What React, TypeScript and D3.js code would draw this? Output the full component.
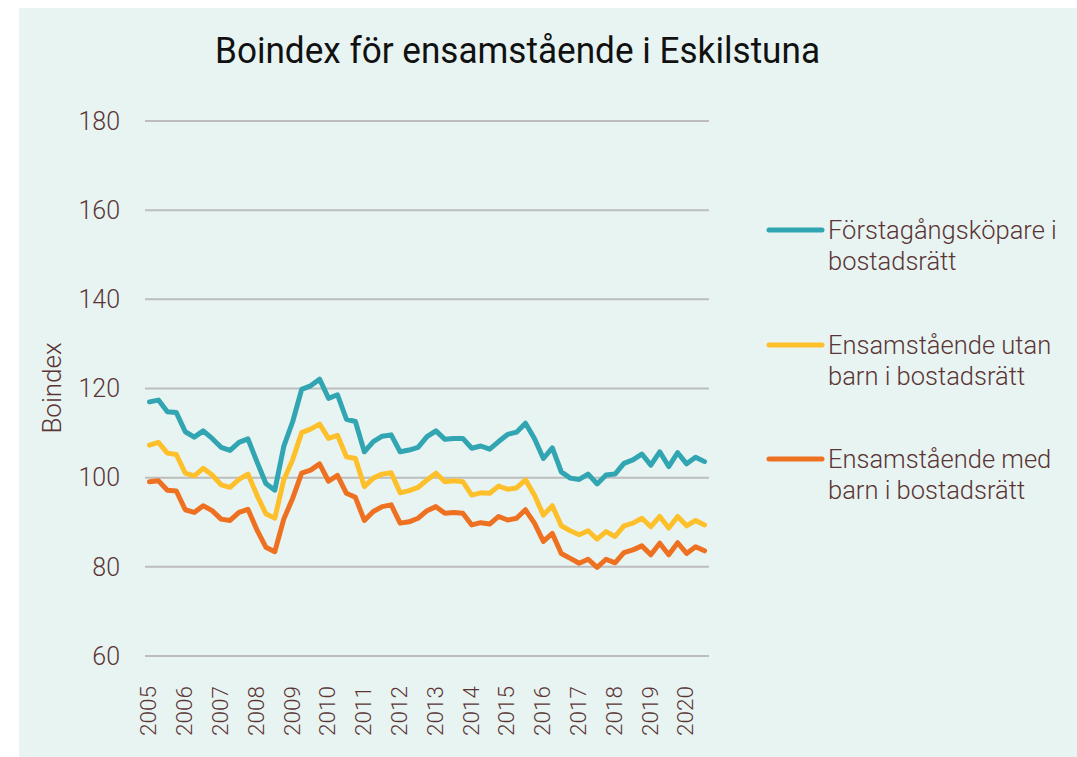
import React from "react";
import * as d3 from "d3";

const years = ["2005","2006","2007","2008","2009","2010","2011","2012","2013","2014","2015","2016","2017","2018","2019","2020"];
const quarters = d3.range(63).map((i) => `${2005 + Math.floor(i / 4)}Q${(i % 4) + 1}`);

const forstagangs = [
  117.0,117.4,114.8,114.6,110.3,109.1,110.5,108.8,106.8,106.1,107.9,108.7,103.6,98.7,97.2,107.0,
  112.6,119.8,120.6,122.1,117.8,118.6,113.1,112.6,105.8,108.1,109.3,109.6,105.8,106.2,106.8,109.2,
  110.5,108.6,108.8,108.8,106.6,107.1,106.4,108.1,109.7,110.2,112.2,108.8,104.3,106.7,101.3,99.9,
  99.6,100.8,98.6,100.6,100.8,103.2,104.0,105.3,102.8,105.8,102.5,105.6,103.1,104.6,103.6
];
const utanBarn = [
  107.3,107.9,105.5,105.2,101.0,100.4,102.1,100.6,98.4,97.8,99.6,100.8,96.1,91.9,90.9,99.5,
  104.1,110.1,110.9,112.0,108.8,109.5,104.7,104.3,98.0,99.9,100.8,101.1,96.6,97.1,97.8,99.5,
  101.0,99.1,99.3,99.1,96.1,96.6,96.5,98.1,97.4,97.7,99.5,96.1,91.6,93.7,89.2,88.1,
  87.2,88.1,86.2,87.9,86.8,89.2,89.8,90.9,89.0,91.3,88.7,91.3,89.2,90.4,89.4
];
const medBarn = [
  99.1,99.3,97.2,97.0,92.8,92.2,93.7,92.6,90.7,90.4,92.2,92.9,88.3,84.4,83.4,90.7,
  95.4,101.0,101.7,103.1,99.2,100.5,96.5,95.6,90.4,92.4,93.5,93.9,89.8,90.1,90.9,92.6,
  93.5,92.0,92.2,92.0,89.4,89.9,89.6,91.3,90.5,90.9,92.8,89.8,85.7,87.5,83.0,81.9,
  80.8,81.7,79.9,81.7,80.9,83.2,83.8,84.7,82.7,85.3,82.7,85.4,83.0,84.5,83.6
];
const yTicks = [60, 80, 100, 120, 140, 160, 180];

const seriesNames = [
  ["Förstagångsköpare i", "bostadsrätt"],
  ["Ensamstående utan", "barn i bostadsrätt"],
  ["Ensamstående med", "barn i bostadsrätt"],
];
const seriesColors = ["#31a5b1", "#fdc02b", "#ee7122"];

export default function App() {
  const W = 1077, H = 757;
  const left = 145, right = 709, top = 121, bottom = 656;
  const x = d3.scaleBand<string>().domain(quarters).range([left, right]);
  const y = d3.scaleLinear().domain([60, 180]).range([bottom, top]);
  const cx = (q: string) => (x(q) as number) + x.bandwidth() / 2;
  const line = d3.line<number>().x((_, i) => cx(quarters[i])).y((d) => y(d));
  const data = [forstagangs, utanBarn, medBarn];
  const font = "Roboto, 'Noto Sans', sans-serif";
  const txt = "#5b3536";
  const legendY = [230, 345, 459];

  return (
    <svg width={W} height={H} style={{ position: "absolute", left: 0, top: 0 }} fontFamily={font}>
      <rect x={0} y={0} width={W} height={H} fill="#ffffff" />
      <rect x={19} y={8} width={W - 19} height={H - 8} fill="#e8f4f1" />
      <text x={215} y={63} fontSize={37} fill="#111" fontWeight={400}
        textLength={605} lengthAdjust="spacingAndGlyphs">
        Boindex för ensamstående i Eskilstuna
      </text>
      {yTicks.map((t) => (
        <g key={t}>
          <line x1={left} x2={right} y1={y(t)} y2={y(t)} stroke="#bdbdbd" strokeWidth={2} />
          <text x={120} y={y(t)} dy="0.35em" textAnchor="end" fontSize={25} fill={txt} fontWeight={300}>
            {t}
          </text>
        </g>
      ))}
      {years.map((yr) => {
        const px = cx(`${yr}Q1`);
        return (
          <text key={yr} transform={`translate(${px - 1},686) rotate(-90)`} textAnchor="end" dy="0.35em"
            fontSize={22.5} fill={txt} fontWeight={300}>
            {yr}
          </text>
        );
      })}
      <text transform="translate(52,388) rotate(-90)" textAnchor="middle" dy="0.35em" fontSize={26} fill={txt} fontWeight={300}>
        Boindex
      </text>
      {data.map((d, k) => (
        <path key={k} d={line(d) || ""} fill="none" stroke={seriesColors[k]} strokeWidth={5}
          strokeLinejoin="round" strokeLinecap="round" />
      ))}
      {seriesNames.map((nm, k) => (
        <g key={k}>
          <line x1={769} x2={822} y1={legendY[k]} y2={legendY[k]} stroke={seriesColors[k]} strokeWidth={5} strokeLinecap="round" />
          <text x={828} y={legendY[k]} dy="0.35em" fontSize={25.5} fill={txt} fontWeight={300}>{nm[0]}</text>
          <text x={828} y={legendY[k] + 31} dy="0.35em" fontSize={25.5} fill={txt} fontWeight={300}>{nm[1]}</text>
        </g>
      ))}
    </svg>
  );
}
